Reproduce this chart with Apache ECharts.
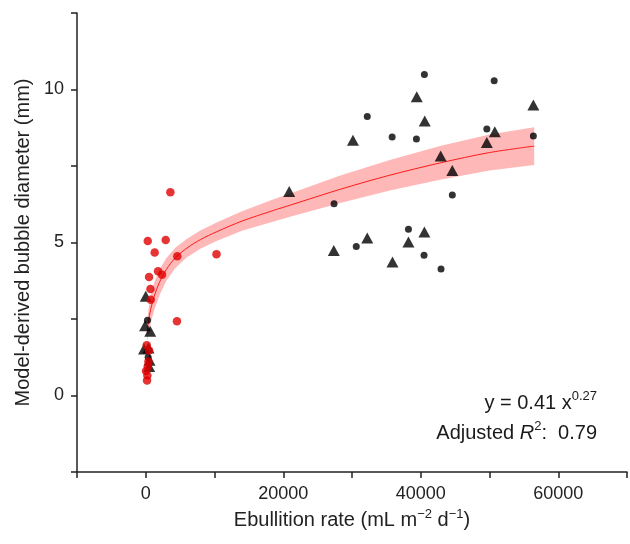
<!DOCTYPE html>
<html>
<head>
<meta charset="utf-8">
<script src="https://cdn.jsdelivr.net/npm/echarts@6/dist/echarts.min.js"></script>
<style>html,body{margin:0;padding:0;background:#fff}#c{width:630px;height:544px}</style>
</head>
<body>
<div id="c"></div>
<script>
// ---- data ----
const redCircles = [
  [3580, 6.64], [290, 5.05], [2900, 5.08], [1300, 4.67], [4590, 4.55], [10290, 4.62],
  [1790, 4.06], [2370, 3.95], [480, 3.87], [680, 3.48], [725, 3.13], [4540, 2.43],
  [145, 1.64], [480, 1.47], [390, 1.11], [300, 0.95], [40, 0.8], [240, 0.65], [190, 0.49]
];
const blackCircles = [
  [40530, 10.49], [50680, 10.29], [32220, 9.12], [35840, 8.45], [39370, 8.38],
  [49610, 8.71], [56380, 8.48], [27390, 6.27], [44590, 6.55], [38210, 5.43],
  [30620, 4.87], [40480, 4.58], [42950, 4.13], [250, 2.46], [350, 1.25]
];
const blackTriangles = [
  [39420, 9.76], [40580, 8.97], [30140, 8.34], [56380, 9.49], [50770, 8.62],
  [49610, 8.27], [42900, 7.83], [44590, 7.35], [20870, 6.67], [27350, 4.74],
  [32220, 5.15], [38210, 5.02], [40530, 5.34], [35890, 4.36],
  [0, 3.24], [-100, 2.28], [650, 2.1], [-250, 1.52], [400, 1.55], [550, 1.15], [500, 0.95]
];
const fitX     = [200, 400, 700, 1200, 2000, 3000, 4300, 6000, 8000, 10300, 14000, 18600, 21000, 28300, 35500, 42800, 50000, 56500];
const fitY     = [2.05, 2.42, 2.8, 3.22, 3.7, 4.12, 4.5, 4.82, 5.1, 5.35, 5.7, 6.05, 6.22, 6.74, 7.2, 7.6, 7.94, 8.15];
const bandLow  = [1.75, 2.02, 2.35, 2.77, 3.28, 3.75, 4.17, 4.52, 4.8, 5.05, 5.38, 5.69, 5.84, 6.29, 6.7, 7.05, 7.35, 7.53];
const bandHigh = [2.35, 2.82, 3.25, 3.67, 4.12, 4.49, 4.83, 5.12, 5.4, 5.65, 6.02, 6.41, 6.6, 7.19, 7.7, 8.15, 8.53, 8.77];
const xTickLabels = [0, 20000, 40000, 60000];
const yTickLabels = [0, 5, 10];

// ---- chart ----
const chart = echarts.init(document.getElementById('c'), null, {renderer: 'canvas'});
const font = 'Liberation Sans, Arial, sans-serif';
const axisColor = '#222';

function renderBand(params, api) {
  if (params.dataIndex !== 0) return null;
  const upper = fitX.map((x, i) => api.coord([x, bandHigh[i]]));
  const lower = fitX.map((x, i) => api.coord([x, bandLow[i]])).reverse();
  return {
    type: 'polygon',
    shape: {points: upper.concat(lower)},
    style: {fill: 'rgba(255,40,40,0.33)'},
    silent: true
  };
}

const option = {
  animation: false,
  backgroundColor: '#fff',
  grid: {left: 77, right: 2, top: 13, bottom: 72, containLabel: false},
  xAxis: {
    type: 'value', min: -10000, max: 70000, interval: 10000,
    axisLine: {onZero: false, lineStyle: {color: axisColor, width: 1.5}},
    axisTick: {show: true, inside: false, length: 6, lineStyle: {color: axisColor, width: 1.5}},
    splitLine: {show: false},
    axisLabel: {
      margin: 13, color: '#222', fontFamily: font, fontSize: 18,
      formatter: v => xTickLabels.includes(v) ? String(v) : ''
    },
    name: '{n|Ebullition rate (mL m}{s|\u22122}{n| d}{s|\u22121}{n|)}',
    nameLocation: 'middle', nameGap: 33,
    nameTextStyle: {
      fontFamily: font, color: '#222',
      rich: {
        n: {fontSize: 20, fontFamily: font, color: '#222', lineHeight: 26},
        s: {fontSize: 13, fontFamily: font, color: '#222', verticalAlign: 'top', lineHeight: 14}
      }
    }
  },
  yAxis: {
    type: 'value', min: -2.5, max: 12.5, interval: 2.5,
    axisLine: {onZero: false, lineStyle: {color: axisColor, width: 1.5}},
    axisTick: {show: true, inside: false, length: 6, lineStyle: {color: axisColor, width: 1.5}},
    splitLine: {show: false},
    axisLabel: {
      margin: 13, color: '#222', fontFamily: font, fontSize: 18,
      formatter: v => yTickLabels.includes(v) ? String(v) : ''
    },
    name: 'Model-derived bubble diameter (mm)',
    nameLocation: 'middle', nameGap: 37,
    nameTextStyle: {fontFamily: font, fontSize: 20, color: '#222'}
  },
  series: [
    {
      type: 'custom', name: 'band', renderItem: renderBand, silent: true,
      data: fitX.map((x, i) => [x, bandLow[i], bandHigh[i]]),
      encode: {x: 0, y: [1, 2]}, z: 1
    },
    {
      type: 'line', name: 'fit', smooth: 0.3, symbol: 'none', silent: true,
      data: fitX.map((x, i) => [x, fitY[i]]),
      lineStyle: {color: '#ff1a1a', width: 1}, z: 2
    },
    {
      type: 'scatter', name: 'triangles', symbol: 'triangle', symbolSize: [12, 11],
      data: blackTriangles, itemStyle: {color: '#000'}, z: 3
    },
    {
      type: 'scatter', name: 'black', symbol: 'circle', symbolSize: 7,
      data: blackCircles, itemStyle: {color: '#000'}, z: 4
    },
    {
      type: 'scatter', name: 'red', symbol: 'circle', symbolSize: 8.5,
      data: redCircles, itemStyle: {color: '#e00000'}, z: 5
    }
  ],
  graphic: [
    {
      type: 'text', right: 33, top: 390,
      style: {
        text: '{n|y = 0.41 }{n|x}{s|0.27}',
        rich: {
          n: {fontSize: 20, fontFamily: font, fill: '#1a1a1a', lineHeight: 26},
          s: {fontSize: 13, fontFamily: font, fill: '#1a1a1a', verticalAlign: 'top'}
        }
      }
    },
    {
      type: 'text', right: 33, top: 420,
      style: {
        text: '{n|Adjusted }{i|R}{s|2}{n|:  0.79}',
        rich: {
          n: {fontSize: 20, fontFamily: font, fill: '#1a1a1a', lineHeight: 26},
          i: {fontSize: 20, fontFamily: font, fill: '#1a1a1a', fontStyle: 'italic', lineHeight: 26},
          s: {fontSize: 13, fontFamily: font, fill: '#1a1a1a', verticalAlign: 'top'}
        }
      }
    }
  ]
};
chart.setOption(option);
</script>
</body>
</html>
